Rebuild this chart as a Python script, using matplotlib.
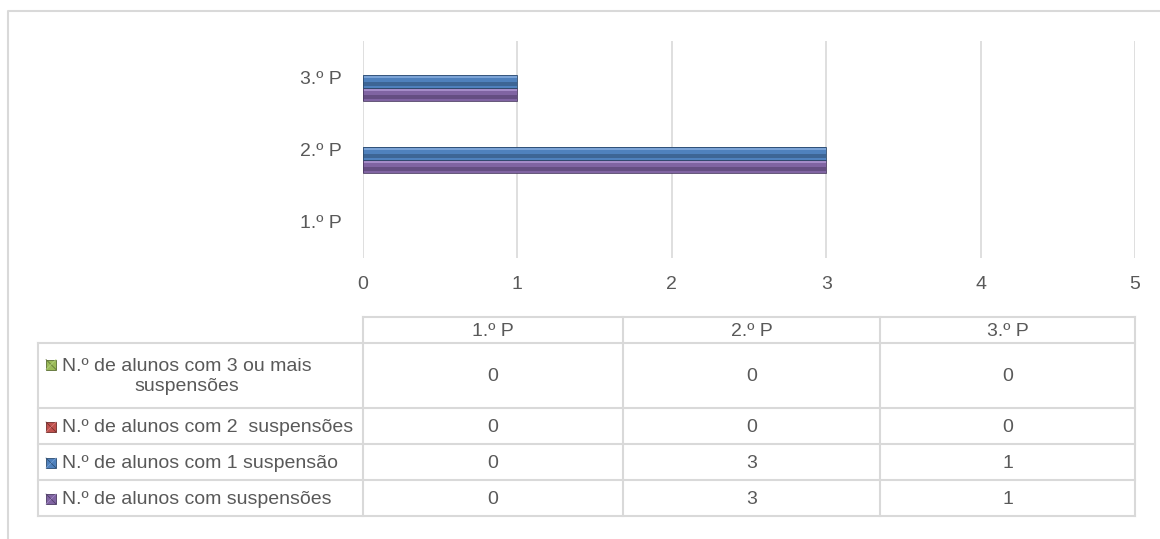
import matplotlib.pyplot as plt
import matplotlib.patches as mpatches
import numpy as np

categories = ["1.º P", "2.º P", "3.º P"]
series_names = [
    "N.º de alunos com suspensões",
    "N.º de alunos com 1 suspensão",
    "N.º de alunos com 2  suspensões",
    "N.º de alunos com 3 ou mais\nsuspensões",
]
com_suspensoes = [0, 3, 1]
uma_suspensao = [0, 3, 1]
duas_suspensoes = [0, 0, 0]
tres_ou_mais = [0, 0, 0]
series_values = [com_suspensoes, uma_suspensao, duas_suspensoes, tres_ou_mais]
colors = ["#8064A2", "#4F81BD", "#C0504D", "#9BBB59"]
dark = ["#4B3A63", "#2C4A6E", "#6E2D2B", "#5A6E33"]
light = ["#A58CC8", "#7BA3D6", "#D98380", "#B9D486"]

W, H = 1160, 539
font = ["Liberation Sans", "DejaVu Sans"]
fs = 14
txt = "#595959"
grid = "#D9D9D9"

fig = plt.figure(figsize=(W / 100, H / 100), dpi=100)

# background layer in pixel coordinates (frame + data table)
bg = fig.add_axes([0, 0, 1, 1])
bg.set_xlim(0, W)
bg.set_ylim(H, 0)
bg.axis("off")
bg.plot([8, 8, W], [H, 11, 11], color=grid, lw=1.5)

# chart area
left, right, top, bottom = 363, 1135, 41, 258
ax = fig.add_axes([left / W, 1 - bottom / H, (right - left) / W, (bottom - top) / H])
ax.set_xlim(0, 5)
ax.set_ylim(-0.5, 2.5)
for s in ax.spines.values():
    s.set_visible(False)
ax.set_xticks(range(6))
ax.grid(axis="x", color=grid, lw=1.2)
ax.set_axisbelow(True)
ax.tick_params(length=0)
ax.tick_params(axis="x", pad=13)
ax.tick_params(axis="y", pad=15)
ax.set_yticks(range(len(categories)))
ax.set_yticklabels(categories)
for lab in ax.get_xticklabels() + ax.get_yticklabels():
    lab.set_family(font)
    lab.set_fontsize(fs)
    lab.set_color(txt)

h = 0.18
y = np.arange(len(categories))
for i, vals in enumerate(series_values):
    yc = y + (i - 1.5) * h + 0.035
    lw = [0.6 if v > 0 else 0 for v in vals]
    ax.barh(yc, vals, height=h, color=colors[i], zorder=2)
    # bevel look: light top edge, dark lower band
    ax.barh(yc + 0.36 * h, vals, height=0.18 * h, color=light[i], zorder=3)
    ax.barh(yc - 0.2 * h, vals, height=0.3 * h, color=dark[i], alpha=0.5, zorder=3)
    ax.barh(yc, vals, height=h, fill=False, edgecolor=dark[i], lw=lw, zorder=4)

# data table
col_x = [38, 363, 623, 880, 1135]
row_y = [317, 343, 408, 444, 480, 516]
lc = "#D9D9D9"
bg.plot([col_x[1], col_x[-1]], [row_y[0], row_y[0]], color=lc, lw=1.5)
for yy in row_y[1:]:
    bg.plot([col_x[0], col_x[-1]], [yy, yy], color=lc, lw=1.5)
for xx in col_x:
    y0 = row_y[0] if xx != col_x[0] else row_y[1]
    bg.plot([xx, xx], [y0, row_y[-1]], color=lc, lw=1.5)

for j, cat in enumerate(categories):
    cx = (col_x[j + 1] + col_x[j + 2]) / 2
    bg.text(cx, (row_y[0] + row_y[1]) / 2 + 1, cat, ha="center", va="center",
            family=font, fontsize=fs, color=txt)

# table rows go top-down in reverse series order
for r, i in enumerate(reversed(range(len(series_values)))):
    yc = (row_y[r + 1] + row_y[r + 2]) / 2 + 1
    first_line = yc - 12 if "\n" in series_names[i] else yc
    bg.add_patch(mpatches.Rectangle((46, first_line - 5), 10, 10,
                                    facecolor=colors[i], edgecolor=dark[i], lw=0.6))
    bg.plot([46, 56], [first_line - 5, first_line + 5], color=dark[i], lw=0.5)
    bg.plot([46, 56], [first_line + 5, first_line - 5], color=light[i], lw=0.5)
    bg.text(62, yc, series_names[i], ha="left", va="center", multialignment="center",
            family=font, fontsize=fs, color=txt, linespacing=1.3)
    for j, v in enumerate(series_values[i]):
        cx = (col_x[j + 1] + col_x[j + 2]) / 2
        bg.text(cx, yc, str(v), ha="center", va="center",
                family=font, fontsize=fs, color=txt)

fig.savefig("out.png", dpi=100)
